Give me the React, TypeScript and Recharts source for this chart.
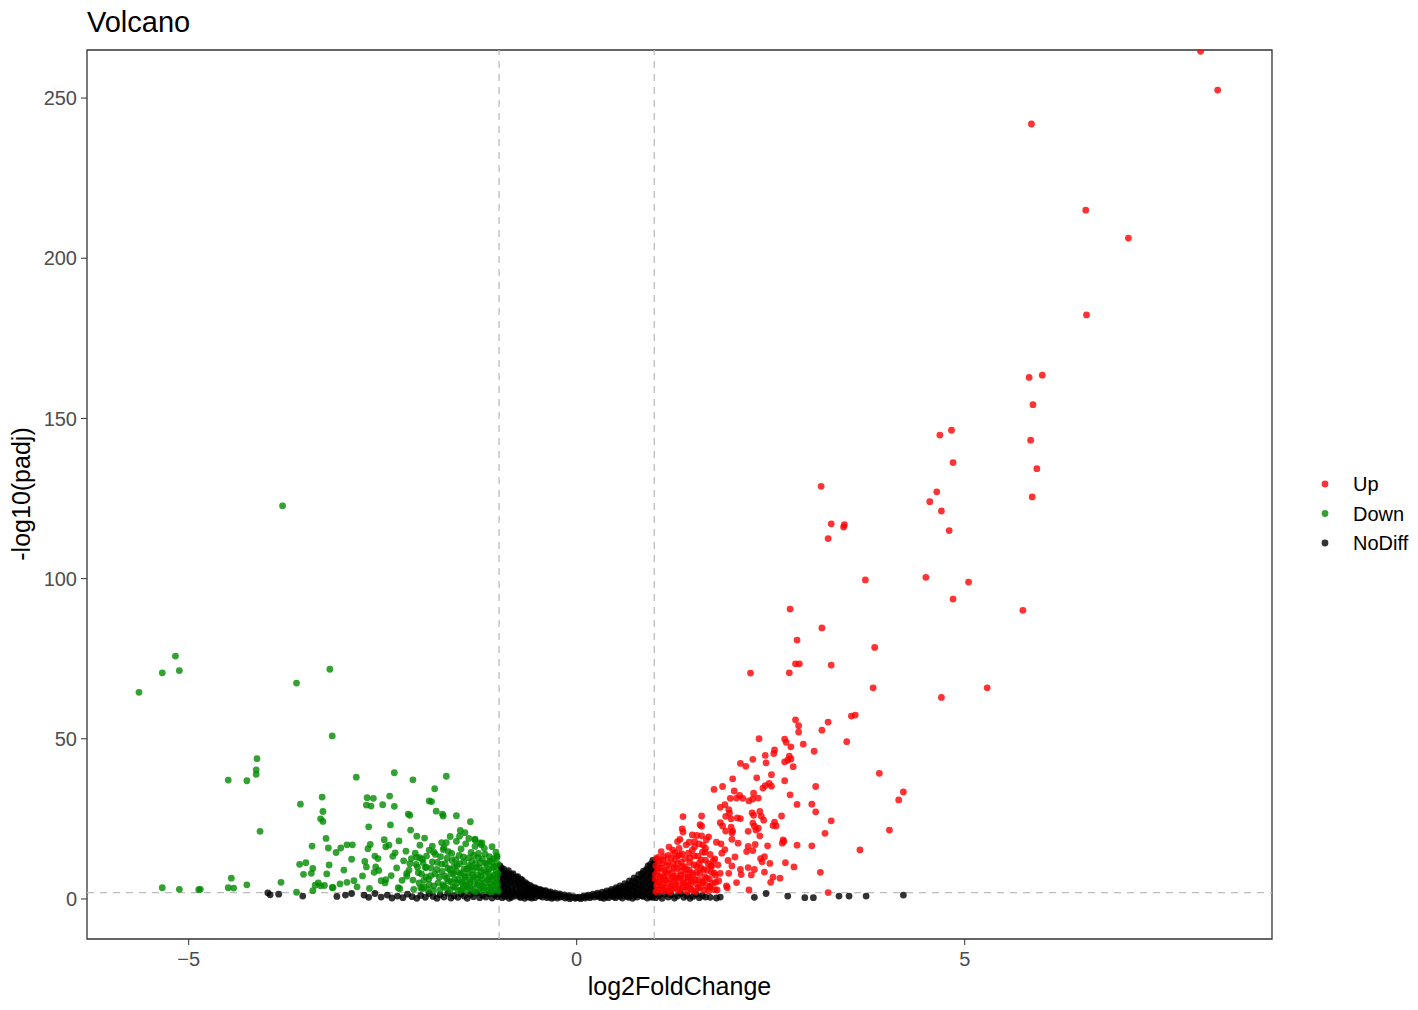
import React from 'react';
import {
  ScatterChart,
  Scatter,
  XAxis,
  YAxis,
  ReferenceLine,
  ReferenceArea,
} from 'recharts';

type Pt = [number, number];

// log2FoldChange, -log10(padj)
const upPoints: Pt[] = [
  [8.04, 264.6], [8.26, 252.5], [5.86, 241.9], [6.56, 215.0], [7.11, 206.3], [6.57, 182.3],
  [5.83, 162.8], [6.0, 163.5], [5.88, 154.3], [5.85, 143.2], [5.93, 134.3], [5.87, 125.5],
  [4.68, 144.8], [4.83, 146.3], [4.85, 136.2], [4.64, 127.1], [4.55, 124.0], [4.7, 121.1], [4.8, 115.0],
  [3.15, 128.8], [3.28, 117.1], [3.45, 116.8], [3.44, 116.1], [3.24, 112.5], [3.72, 99.6], [4.5, 100.4],
  [5.05, 98.9], [4.85, 93.6], [5.75, 90.1], [2.75, 90.5], [3.16, 84.6], [2.84, 80.8], [3.84, 78.5],
  [2.24, 70.5], [2.74, 70.6], [2.82, 73.4], [2.87, 73.4], [3.28, 73.0], [3.82, 65.9], [4.7, 62.9], [5.29, 65.9],
  [2.82, 55.9], [2.86, 54.1], [2.86, 52.1], [3.24, 55.2], [3.16, 52.7], [3.54, 57.1], [3.59, 57.4],
  [3.48, 49.1], [3.9, 39.2], [4.21, 33.4], [4.15, 30.9], [4.03, 21.5], [3.65, 15.3],
  [2.35, 50.0], [2.68, 49.9], [2.7, 48.9], [2.76, 47.5], [2.92, 48.3], [3.06, 46.1],
  [2.43, 44.8], [2.44, 42.5], [2.55, 46.5], [2.54, 45.4], [2.74, 44.6], [2.76, 43.7], [2.68, 42.8],
  [2.72, 43.3], [2.79, 41.3], [2.27, 43.6], [2.11, 42.3], [2.18, 41.4],
  [2.01, 37.5], [2.32, 37.8], [2.51, 38.8], [2.68, 36.9], [3.08, 35.1], [2.4, 34.6], [2.43, 35.4],
  [2.48, 36.1], [2.51, 35.2], [1.77, 34.2], [1.88, 35.1], [2.03, 33.7], [2.75, 32.5], [1.98, 31.4],
  [2.06, 31.5], [2.1, 32.3], [2.14, 31.4], [2.22, 30.6], [2.27, 31.2], [2.28, 33.0], [2.34, 31.5],
  [1.85, 28.6], [1.91, 29.4], [1.96, 27.9], [1.97, 26.8], [2.84, 29.5], [3.03, 29.6], [3.08, 27.2],
  [1.61, 25.9], [1.37, 25.7], [1.92, 25.8], [1.99, 25.0], [2.07, 25.3], [2.11, 25.1], [2.26, 26.9],
  [2.28, 26.1], [2.36, 27.3], [2.38, 25.8], [2.41, 24.6], [2.64, 25.9], [3.28, 24.4],
  [1.59, 23.2], [1.61, 22.7], [1.85, 23.8], [1.88, 22.8], [1.99, 22.4], [2.01, 21.2], [2.27, 23.7],
  [2.29, 22.7], [2.31, 21.5], [2.55, 24.0], [2.53, 22.9], [2.57, 22.8],
  [1.36, 21.9], [1.37, 20.9], [1.49, 20.0], [1.55, 19.8], [1.61, 19.7], [1.7, 19.4], [1.92, 21.2],
  [2.0, 20.6], [2.0, 18.6], [2.21, 21.1], [2.34, 22.1], [2.36, 19.7], [3.2, 20.5], [2.66, 18.4], [2.67, 18.0],
  [1.3, 17.9], [1.32, 15.8], [1.45, 17.7], [1.52, 17.9], [1.63, 16.8], [1.67, 18.5], [1.8, 17.7],
  [1.86, 17.2], [1.91, 15.4], [2.08, 17.4], [2.21, 16.4], [2.27, 15.1], [2.3, 17.0], [2.19, 14.8],
  [2.46, 16.6], [2.65, 17.4], [2.84, 16.8], [3.03, 16.6],
  [1.93, 4.1], [1.94, 3.5], [2.06, 5.1], [2.21, 9.8], [2.29, 9.2], [2.25, 7.5], [2.42, 8.4], [2.49, 11.1],
  [2.53, 6.8], [2.62, 6.5], [2.5, 5.2], [2.69, 11.3], [2.8, 10.0], [3.14, 8.3], [2.22, 2.8], [3.24, 2.0],
  [2.11, 9.2], [2.12, 7.6], [2.37, 12.6], [2.39, 11.6], [2.42, 13.2], [1.87, 14.3], [1.78, 12.5],
  [1.74, 10.3], [1.79, 7.4], [1.83, 5.6], [1.72, 3.6], [1.81, 2.8], [1.95, 12.0], [2.0, 10.3],
  [2.04, 13.1], [1.96, 8.0],
  [1.02, 2.3], [1.03, 4.1], [1.01, 6.2], [1.04, 8.5], [1.02, 10.4], [1.05, 3.0], [1.06, 5.3], [1.07, 7.1],
  [1.08, 9.6], [1.06, 11.8], [1.1, 2.5], [1.11, 4.6], [1.12, 6.8], [1.13, 8.9], [1.11, 12.2], [1.14, 3.4],
  [1.15, 5.9], [1.16, 10.5], [1.17, 7.7], [1.18, 13.6], [1.2, 2.2], [1.21, 4.0], [1.22, 6.1], [1.23, 8.1],
  [1.24, 10.9], [1.25, 3.3], [1.26, 5.4], [1.27, 12.4], [1.28, 7.3], [1.29, 9.5], [1.31, 2.6], [1.32, 4.5],
  [1.33, 6.6], [1.34, 8.7], [1.35, 11.5], [1.36, 14.1], [1.37, 3.7], [1.38, 5.8], [1.39, 10.1], [1.4, 7.9],
  [1.42, 2.4], [1.43, 4.3], [1.44, 6.4], [1.45, 9.1], [1.46, 12.8], [1.47, 3.1], [1.48, 5.6], [1.49, 15.2],
  [1.5, 7.5], [1.51, 10.7], [1.53, 2.3], [1.54, 4.8], [1.55, 8.3], [1.56, 13.4], [1.57, 6.0], [1.58, 11.2],
  [1.59, 3.5], [1.6, 9.7], [1.62, 14.6], [1.63, 5.1], [1.64, 2.7], [1.65, 7.0], [1.66, 12.1], [1.67, 4.2],
  [1.68, 9.0], [1.7, 2.5], [1.71, 6.3], [1.72, 13.9], [1.73, 10.3], [1.75, 4.9],
  [1.05, 13.0], [1.09, 14.8], [1.19, 16.2], [1.3, 13.3], [1.41, 16.9], [1.33, 18.6], [1.24, 15.2],
  [1.44, 14.3], [1.52, 16.3], [1.58, 17.2], [1.66, 15.8], [1.77, 8.1], [1.78, 2.9],
  [1.015, 7.7], [1.025, 12.6], [1.045, 5.1], [1.055, 9.6], [1.065, 2.9], [1.085, 6.8], [1.095, 11.0],
  [1.105, 3.8], [1.125, 13.2], [1.135, 5.8], [1.145, 8.4], [1.155, 2.6], [1.175, 11.4], [1.185, 4.9],
  [1.195, 9.2], [1.215, 12.8], [1.225, 3.2], [1.235, 7.0], [1.255, 9.8], [1.265, 14.4], [1.275, 4.4],
  [1.295, 6.4], [1.305, 11.0], [1.325, 13.8], [1.335, 2.9], [1.345, 7.4], [1.365, 10.0], [1.375, 5.1],
  [1.395, 12.6], [1.405, 3.8], [1.415, 9.2], [1.435, 6.9], [1.455, 11.4], [1.465, 4.7], [1.485, 8.1],
  [1.495, 2.7], [1.515, 13.4], [1.525, 6.0], [1.545, 10.2], [1.565, 3.6], [1.585, 8.0], [1.605, 12.2],
  [1.615, 5.4], [1.635, 9.2], [1.655, 14.6], [1.675, 6.4], [1.695, 11.0], [1.715, 3.9], [1.735, 8.4],
  [1.76, 12.0], [1.79, 5.2], [1.82, 10.6], [1.85, 8.0],
];

const downPoints: Pt[] = [
  [-5.64, 64.5], [-5.34, 70.6], [-5.17, 75.8], [-5.12, 71.3], [-3.61, 67.4], [-3.18, 71.7], [-3.15, 50.9],
  [-3.79, 122.7], [-4.12, 43.8], [-4.13, 40.3], [-4.13, 38.9], [-4.49, 37.1], [-4.25, 36.9], [-4.08, 21.1],
  [-3.56, 29.6], [-3.28, 31.8], [-3.27, 27.3], [-3.3, 25.0], [-3.27, 24.2], [-3.23, 18.9], [-3.2, 15.9],
  [-3.41, 16.5], [-3.57, 10.8], [-3.49, 11.3], [-3.52, 7.7], [-3.4, 9.5], [-3.42, 8.0], [-3.19, 10.6],
  [-3.22, 7.8], [-4.45, 6.5], [-4.49, 3.5], [-4.42, 3.4], [-4.25, 4.4], [-5.34, 3.5], [-5.12, 3.0],
  [-4.87, 2.9], [-4.85, 3.0], [-3.81, 5.2], [-3.61, 2.1], [-3.4, 2.6], [-3.37, 4.3], [-3.33, 5.0],
  [-3.3, 4.1], [-3.25, 4.2], [-3.14, 3.5],
  [-2.84, 38.0], [-2.35, 39.4], [-2.11, 37.2], [-1.68, 38.3], [-1.83, 34.4],
  [-2.7, 31.6], [-2.62, 31.4], [-2.71, 29.3], [-2.65, 29.0], [-2.5, 29.4], [-2.41, 32.1], [-2.35, 28.9],
  [-2.17, 26.5], [-2.15, 26.1], [-1.9, 30.6], [-1.87, 30.4], [-1.81, 27.4], [-1.73, 26.5], [-1.72, 25.9],
  [-1.55, 26.0], [-1.37, 24.1], [-2.68, 22.5], [-2.4, 23.1], [-2.14, 21.5], [-1.5, 21.4],
  [-3.1, 14.5], [-3.04, 15.9], [-2.96, 16.9], [-2.89, 16.9], [-2.66, 17.0], [-2.69, 15.7], [-2.48, 18.5],
  [-2.46, 16.3], [-2.29, 18.1], [-2.06, 19.6], [-1.96, 19.0], [-1.51, 19.6], [-1.44, 20.7], [-1.31, 18.7],
  [-1.22, 17.5], [-3.15, 3.6], [-3.05, 4.7], [-2.96, 5.2], [-2.87, 5.7], [-2.83, 3.8],
  [-2.73, 11.7], [-2.71, 10.0], [-2.6, 13.4], [-2.56, 12.6], [-2.59, 10.0], [-2.61, 8.3], [-2.67, 3.3],
  [-2.52, 5.7], [-2.47, 5.0], [-2.46, 6.0], [-2.37, 13.3], [-2.34, 14.4], [-2.23, 11.9], [-2.3, 3.5],
  [-2.28, 3.2], [-2.19, 7.1], [-2.15, 11.0], [-2.13, 12.6], [-2.08, 14.3], [-2.06, 13.0], [-2.05, 9.9],
  [-2.01, 3.5], [-1.99, 3.2], [-1.94, 6.9],
  [-1.31, 18.4], [-1.23, 16.9], [-1.03, 13.0], [-2.19, 8.0], [-1.86, 16.5], [-1.84, 14.6], [-1.74, 17.6],
  [-1.72, 15.4], [-2.02, 12.9], [-1.98, 11.4], [-1.94, 9.9], [-2.11, 5.9], [-2.03, 5.0], [-1.9, 4.5],
  [-1.01, 2.4], [-1.02, 4.4], [-1.03, 6.5], [-1.04, 8.8], [-1.02, 11.0], [-1.05, 3.2], [-1.06, 5.6],
  [-1.07, 7.4], [-1.08, 9.9], [-1.07, 12.6], [-1.1, 2.2], [-1.11, 4.8], [-1.12, 6.9], [-1.13, 9.3],
  [-1.12, 11.9], [-1.14, 3.6], [-1.15, 6.0], [-1.16, 10.8], [-1.17, 8.0], [-1.18, 14.0], [-1.2, 2.6],
  [-1.21, 4.2], [-1.22, 6.3], [-1.23, 8.4], [-1.24, 11.3], [-1.25, 3.1], [-1.26, 5.2], [-1.27, 12.9],
  [-1.28, 7.6], [-1.29, 9.8], [-1.31, 2.3], [-1.32, 4.7], [-1.33, 6.8], [-1.34, 9.0], [-1.35, 11.8],
  [-1.36, 14.5], [-1.37, 3.4], [-1.38, 5.9], [-1.39, 10.4], [-1.4, 8.1], [-1.42, 2.7], [-1.43, 4.5],
  [-1.44, 6.6], [-1.45, 9.4], [-1.46, 13.1], [-1.47, 3.3], [-1.48, 5.4], [-1.49, 15.6], [-1.5, 7.7],
  [-1.51, 11.0], [-1.53, 2.5], [-1.54, 5.0], [-1.55, 8.6], [-1.56, 12.3], [-1.57, 6.2], [-1.58, 10.1],
  [-1.59, 3.8], [-1.61, 14.2], [-1.62, 7.9], [-1.63, 2.9], [-1.65, 5.5], [-1.66, 9.6], [-1.67, 12.7],
  [-1.68, 3.4], [-1.7, 7.2], [-1.71, 16.1], [-1.72, 4.5], [-1.74, 10.9], [-1.76, 2.8], [-1.77, 6.8],
  [-1.04, 14.6], [-1.09, 16.3], [-1.19, 15.8], [-1.25, 17.5], [-1.31, 16.4], [-1.39, 18.9], [-1.43, 17.2],
  [-1.55, 18.0], [-1.63, 19.5], [-1.68, 17.6], [-1.8, 9.2], [-1.82, 13.9], [-1.84, 4.1], [-1.86, 11.6],
  [-1.88, 7.3], [-1.9, 15.2], [-1.92, 2.9], [-1.95, 9.8], [-1.97, 5.8], [-1.99, 12.4], [-2.02, 16.8], [-2.04, 8.2],
  [-1.015, 8.0], [-1.025, 13.4], [-1.045, 5.0], [-1.055, 10.2], [-1.065, 2.9], [-1.085, 7.0], [-1.095, 11.6],
  [-1.105, 4.0], [-1.125, 13.2], [-1.135, 6.1], [-1.145, 8.6], [-1.155, 2.7], [-1.175, 11.2], [-1.185, 5.0],
  [-1.195, 9.1], [-1.215, 12.5], [-1.225, 3.4], [-1.235, 7.2], [-1.255, 9.8], [-1.265, 14.2], [-1.275, 4.4],
  [-1.295, 6.4], [-1.305, 11.0], [-1.325, 13.6], [-1.335, 2.9], [-1.345, 7.5], [-1.365, 10.0], [-1.375, 5.2],
  [-1.395, 12.8], [-1.405, 3.9], [-1.415, 9.4], [-1.435, 7.0], [-1.455, 11.6], [-1.465, 4.8], [-1.485, 8.2],
  [-1.495, 2.8], [-1.515, 13.6], [-1.525, 6.0], [-1.545, 10.4], [-1.565, 3.7], [-1.585, 8.0], [-1.605, 12.0],
  [-1.615, 5.4], [-1.635, 9.2], [-1.655, 14.8], [-1.675, 6.4], [-1.695, 11.0], [-1.715, 3.9], [-1.735, 8.6],
  [-1.755, 13.2], [-1.785, 5.0], [-1.795, 11.4], [-1.825, 7.8], [-1.845, 2.6], [-1.875, 9.6], [-1.905, 6.2],
  [-1.935, 13.4], [-1.965, 3.8], [-2.0, 7.8], [-2.07, 10.8], [-2.1, 3.0], [-2.16, 9.0], [-2.2, 14.9],
  [-2.25, 5.8], [-2.32, 9.7], [-2.39, 7.3], [-2.42, 16.8], [-2.55, 8.9], [-2.76, 7.2], [-2.9, 12.4], [-3.0, 9.0],
];

const noDiffPoints: Pt[] = [
  [-0.99, 10.4], [-0.98, 8.6], [-0.99, 6.9], [-0.97, 5.1], [-0.98, 3.3], [-0.99, 1.6], [-0.96, 0.4],
  [-0.94, 9.3], [-0.93, 7.4], [-0.92, 5.8], [-0.93, 4.0], [-0.91, 2.2], [-0.92, 0.8],
  [-0.88, 8.8], [-0.87, 6.9], [-0.86, 5.0], [-0.88, 3.1], [-0.85, 1.4], [-0.87, 0.2],
  [-0.82, 7.9], [-0.81, 6.1], [-0.8, 4.3], [-0.82, 2.6], [-0.79, 0.9],
  [-0.76, 7.0], [-0.75, 5.4], [-0.74, 3.7], [-0.76, 2.0], [-0.73, 0.5],
  [-0.7, 5.8], [-0.69, 4.4], [-0.68, 2.9], [-0.7, 1.3], [-0.67, 0.2],
  [-0.64, 4.6], [-0.63, 3.3], [-0.62, 2.1], [-0.64, 0.8], [-0.58, 3.8], [-0.57, 2.7], [-0.56, 1.5],
  [-0.58, 0.3], [-0.52, 3.2], [-0.51, 2.2], [-0.5, 1.0], [-0.46, 2.8], [-0.45, 1.8], [-0.44, 0.6],
  [-0.4, 2.6], [-0.39, 1.5], [-0.38, 0.4], [-0.34, 2.2], [-0.33, 1.2], [-0.32, 0.2], [-0.28, 1.9],
  [-0.27, 0.9], [-0.22, 1.6], [-0.21, 0.6], [-0.16, 1.3], [-0.15, 0.3], [-0.1, 1.0], [-0.09, 0.1],
  [-0.04, 0.7], [-0.02, 0.2], [0.03, 0.6], [0.05, 0.1], [0.09, 0.9], [0.11, 0.3], [0.15, 1.2],
  [0.17, 0.4], [0.21, 1.5], [0.23, 0.6], [0.27, 1.8], [0.28, 0.8], [0.33, 2.1], [0.34, 1.0], [0.35, 0.2],
  [0.39, 2.5], [0.4, 1.4], [0.41, 0.4], [0.45, 3.0], [0.46, 1.8], [0.47, 0.7], [0.51, 3.5], [0.52, 2.3],
  [0.53, 1.1], [0.56, 4.1], [0.57, 2.9], [0.58, 1.6], [0.59, 0.3], [0.62, 4.8], [0.63, 3.5], [0.64, 2.2],
  [0.65, 0.8], [0.68, 5.6], [0.69, 4.2], [0.7, 2.8], [0.71, 1.3], [0.72, 0.2], [0.74, 6.6], [0.75, 5.0],
  [0.76, 3.5], [0.77, 1.9], [0.78, 0.6], [0.8, 7.6], [0.81, 6.0], [0.82, 4.3], [0.83, 2.6], [0.84, 1.0],
  [0.86, 8.7], [0.87, 7.0], [0.88, 5.2], [0.89, 3.4], [0.9, 1.7], [0.91, 0.3], [0.92, 10.3], [0.93, 8.4],
  [0.94, 6.4], [0.95, 4.5], [0.96, 2.7], [0.97, 1.0], [0.98, 12.0], [0.99, 10.0], [0.98, 7.9],
  [0.99, 5.9], [0.98, 3.8], [0.99, 2.0], [0.98, 0.5],
  [-0.97, 9.7], [-0.96, 7.9], [-0.95, 6.3], [-0.96, 4.5], [-0.95, 2.7], [-0.94, 1.1],
  [-0.9, 8.2], [-0.89, 6.4], [-0.9, 4.6], [-0.89, 2.9], [-0.9, 1.5],
  [-0.84, 7.6], [-0.85, 5.6], [-0.84, 3.7], [-0.83, 1.9], [-0.84, 0.5],
  [-0.78, 6.8], [-0.79, 5.1], [-0.78, 3.2], [-0.77, 1.4],
  [-0.72, 6.2], [-0.73, 4.8], [-0.72, 3.3], [-0.71, 1.9], [-0.72, 0.6],
  [-0.66, 5.1], [-0.66, 3.7], [-0.65, 2.5], [-0.66, 1.2],
  [-0.6, 4.2], [-0.6, 2.9], [-0.6, 1.6], [-0.61, 0.5],
  [-0.54, 3.5], [-0.54, 2.5], [-0.53, 1.4], [-0.54, 0.4],
  [-0.48, 3.0], [-0.48, 1.9], [-0.47, 0.9], [-0.42, 2.4], [-0.42, 1.2], [-0.36, 1.9], [-0.36, 0.8],
  [-0.3, 1.5], [-0.3, 0.5], [-0.24, 1.2], [-0.25, 0.3], [-0.19, 0.9], [-0.13, 0.7], [-0.07, 0.5],
  [0.0, 0.4], [0.07, 0.5], [0.13, 0.7], [0.19, 0.9], [0.25, 1.2], [0.3, 1.4], [0.31, 0.4], [0.37, 1.8],
  [0.37, 0.7], [0.43, 2.3], [0.43, 1.1], [0.49, 2.8], [0.49, 1.5], [0.5, 0.4],
  [0.54, 3.2], [0.55, 2.0], [0.55, 0.8], [0.6, 3.8], [0.61, 2.6], [0.61, 1.2], [0.66, 4.5], [0.67, 3.1],
  [0.67, 1.8], [0.67, 0.5], [0.72, 5.4], [0.73, 3.9], [0.73, 2.3], [0.74, 0.9], [0.78, 6.2], [0.79, 4.5],
  [0.79, 2.8], [0.8, 1.3], [0.84, 7.9], [0.85, 6.2], [0.85, 4.3], [0.86, 2.5], [0.86, 0.8], [0.9, 9.2],
  [0.9, 7.4], [0.91, 5.5], [0.91, 3.6], [0.92, 1.9], [0.95, 10.8], [0.96, 9.0], [0.96, 7.1], [0.97, 5.2],
  [0.96, 3.4], [0.95, 0.6], [1.0, 11.2], [0.995, 8.7],
  [-2.52, 0.6], [-2.44, 1.2], [-2.38, 0.3], [-2.31, 0.9], [-2.24, 0.4], [-2.18, 1.5], [-2.12, 0.7],
  [-2.06, 0.2], [-2.01, 1.1], [-1.95, 0.5], [-1.9, 1.7], [-1.85, 0.8], [-1.8, 0.2], [-1.76, 1.3],
  [-1.71, 0.6], [-1.66, 1.8], [-1.62, 0.3], [-1.58, 1.0], [-1.53, 0.5], [-1.49, 1.6], [-1.45, 0.9],
  [-1.41, 0.2], [-1.37, 1.4], [-1.33, 0.7], [-1.29, 1.8], [-1.25, 0.4], [-1.21, 1.1], [-1.17, 0.6],
  [-1.13, 1.6], [-1.09, 0.3], [-1.05, 1.2], [-1.02, 0.7],
  [-3.98, 1.9], [-3.95, 1.3], [-3.84, 1.5], [-3.53, 0.9], [-3.09, 0.8], [-2.98, 1.2], [-2.9, 1.7],
  [-2.74, 1.2], [-2.68, 0.5], [-2.6, 1.7],
  [1.02, 0.4], [1.06, 1.1], [1.1, 0.2], [1.14, 1.5], [1.18, 0.6], [1.22, 1.2], [1.26, 0.3], [1.3, 0.9],
  [1.34, 1.7], [1.38, 0.5], [1.42, 1.1], [1.46, 0.2], [1.5, 0.8], [1.54, 1.4], [1.58, 0.4], [1.62, 1.0],
  [1.66, 0.6], [1.72, 0.5], [1.8, 0.3], [1.85, 0.6], [2.29, 0.5], [2.44, 1.7], [2.72, 0.9], [2.94, 0.4],
  [3.05, 0.4], [3.38, 0.9], [3.51, 0.9], [3.73, 0.9], [4.21, 1.2],
];

const xTicks = [-5, 0, 5];
const yTicks = [0, 50, 100, 150, 200, 250];
const fcCutoffs = [-1, 1];
const padjCutoff = 2;

const legendItems = [
  { name: 'Up', color: '#FF0000' },
  { name: 'Down', color: '#008B00' },
  { name: 'NoDiff', color: '#000000' },
];

const toRows = (pts: Pt[]) => pts.map(([x, y]) => ({ x, y }));

const dot = (color: string) => (props: any) => (
  <circle cx={props.cx} cy={props.cy} r={3.4} fill={color} fillOpacity={0.8} />
);

const X_DOMAIN: [number, number] = [-6.31, 8.96];
const Y_DOMAIN: [number, number] = [-12.5, 265];

export default function App() {
  return (
    <div
      style={{
        position: 'relative',
        width: 1402,
        height: 994,
        fontFamily: "'Liberation Sans', Arial, sans-serif",
        background: '#fff',
      }}
    >
      <ScatterChart
        width={1402}
        height={994}
        margin={{ top: 42, right: 138, bottom: 3, left: 19 }}
      >
        <XAxis
          type="number"
          dataKey="x"
          domain={X_DOMAIN}
          ticks={xTicks}
          allowDataOverflow
          height={60}
          axisLine={false}
          tickLine={{ stroke: '#333333' }}
          tickSize={6}
          tickMargin={7}
          tick={{ fill: '#4D4D4D', fontSize: 20 }}
          tickFormatter={(v: number) => (v < 0 ? `\u2212${Math.abs(v)}` : `${v}`)}
        />
        <YAxis
          type="number"
          dataKey="y"
          domain={Y_DOMAIN}
          ticks={yTicks}
          allowDataOverflow
          width={60}
          axisLine={false}
          tickLine={{ stroke: '#333333' }}
          tickSize={6}
          tickMargin={4}
          tick={{ fill: '#4D4D4D', fontSize: 20 }}
        />
        <Scatter name="NoDiff" data={toRows(noDiffPoints)} shape={dot('#000000')} isAnimationActive={false} />
        <Scatter name="Down" data={toRows(downPoints)} shape={dot('#008B00')} isAnimationActive={false} />
        <Scatter name="Up" data={toRows(upPoints)} shape={dot('#FF0000')} isAnimationActive={false} />
        {fcCutoffs.map((v) => (
          <ReferenceLine key={v} x={v} stroke="#BDBDBD" strokeWidth={1.3} strokeDasharray="7 6" />
        ))}
        <ReferenceLine y={padjCutoff} stroke="#BDBDBD" strokeWidth={1.3} strokeDasharray="7 6" />
        <ReferenceArea
          x1={X_DOMAIN[0]}
          x2={X_DOMAIN[1]}
          y1={Y_DOMAIN[0]}
          y2={Y_DOMAIN[1]}
          fill="none"
          stroke="#333333"
          strokeWidth={1.3}
          ifOverflow="visible"
        />
      </ScatterChart>

      {/* title, axis titles and legend, in page coordinates */}
      <svg
        width={1418}
        height={1010}
        style={{ position: 'absolute', left: -8, top: -8, pointerEvents: 'none' }}
      >
        <text x={87} y={32} fontSize={29} fill="#000">Volcano</text>
        <text x={679.5} y={995} fontSize={25} fill="#000" textAnchor="middle">log2FoldChange</text>
        <text
          x={0}
          y={0}
          fontSize={25}
          fill="#000"
          textAnchor="middle"
          transform="translate(30,494) rotate(-90)"
        >
          -log10(padj)
        </text>
        {legendItems.map((item, i) => (
          <g key={item.name}>
            <circle cx={1325} cy={484 + i * 29.5} r={3.4} fill={item.color} fillOpacity={0.8} />
            <text x={1353} y={484 + i * 29.5 + 7} fontSize={20} fill="#000">{item.name}</text>
          </g>
        ))}
      </svg>
    </div>
  );
}
